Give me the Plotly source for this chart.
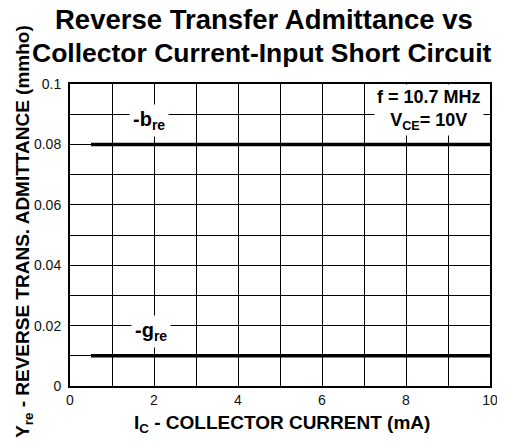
import plotly.graph_objects as go

ic_ma = [0.5, 10]
b_re = [0.08, 0.08]
g_re = [0.01, 0.01]

fig = go.Figure()
fig.add_trace(go.Scatter(x=ic_ma, y=b_re, mode="lines", line=dict(color="black", width=3.5), showlegend=False))
fig.add_trace(go.Scatter(x=ic_ma, y=g_re, mode="lines", line=dict(color="black", width=3.5), showlegend=False))

font = "Liberation Sans, Arial, sans-serif"
# the page body adds an 8px offset, so the figure is 8px smaller than the window
fig.update_layout(
    width=497, height=434,
    margin=dict(l=62, r=15, t=76, b=56, autoexpand=False),
    paper_bgcolor="white", plot_bgcolor="white",
    font=dict(family=font, color="black"),
    xaxis=dict(range=[0, 10], dtick=2, tick0=0, showgrid=True, gridcolor="black", gridwidth=1,
               minor=dict(dtick=1, showgrid=True, gridcolor="black", gridwidth=1),
               showline=True, linecolor="black", linewidth=2, mirror=True, zeroline=False,
               tickfont=dict(size=14, color="#111"), ticks="", automargin=False),
    yaxis=dict(range=[0, 0.1], dtick=0.02, tick0=0, showgrid=True, gridcolor="black", gridwidth=1,
               minor=dict(dtick=0.01, showgrid=True, gridcolor="black", gridwidth=1),
               showline=True, linecolor="black", linewidth=2, mirror=True, zeroline=False,
               tickfont=dict(size=14, color="#111"), ticks="", automargin=False, ticklabelstandoff=4),
)

# titles
fig.add_annotation(x=0.462, y=1.212, xref="paper", yref="paper", text="<b>Reverse Transfer Admittance vs</b>",
                   showarrow=False, font=dict(size=27.5, family=font), xanchor="center", yanchor="middle")
fig.add_annotation(x=0.457, y=1.104, xref="paper", yref="paper", text="<b>Collector Current-Input Short Circuit</b>",
                   showarrow=False, font=dict(size=26.5, family=font), xanchor="center", yanchor="middle")
fig.add_annotation(x=0.505, y=-0.126, xref="paper", yref="paper", text="<b>I<sub>C</sub> - COLLECTOR CURRENT (mA)</b>",
                   showarrow=False, font=dict(size=19, family=font), xanchor="center", yanchor="middle")
fig.add_annotation(x=-0.11, y=0.513, xref="paper", yref="paper",
                   text="<b>Y<sub>re</sub> - REVERSE TRANS. ADMITTANCE (mmho)</b>",
                   showarrow=False, font=dict(size=19, family=font), textangle=-90,
                   xanchor="center", yanchor="middle")

fig.add_annotation(x=1.88, y=0.088, xref="x", yref="y", text="<b>-b<sub>re</sub></b>", showarrow=False,
                   font=dict(size=20, family=font), bgcolor="white", borderpad=3)
fig.add_annotation(x=1.93, y=0.0182, xref="x", yref="y", text="<b>-g<sub>re</sub></b>", showarrow=False,
                   font=dict(size=20, family=font), bgcolor="white", borderpad=3)
fig.add_annotation(x=8.55, y=0.0915, xref="x", yref="y",
                   text="<b>f = 10.7 MHz<br>V<sub>CE</sub>= 10V</b>", showarrow=False,
                   font=dict(size=18, family=font), bgcolor="white", borderpad=2, align="center")

fig.write_html("out.html")
